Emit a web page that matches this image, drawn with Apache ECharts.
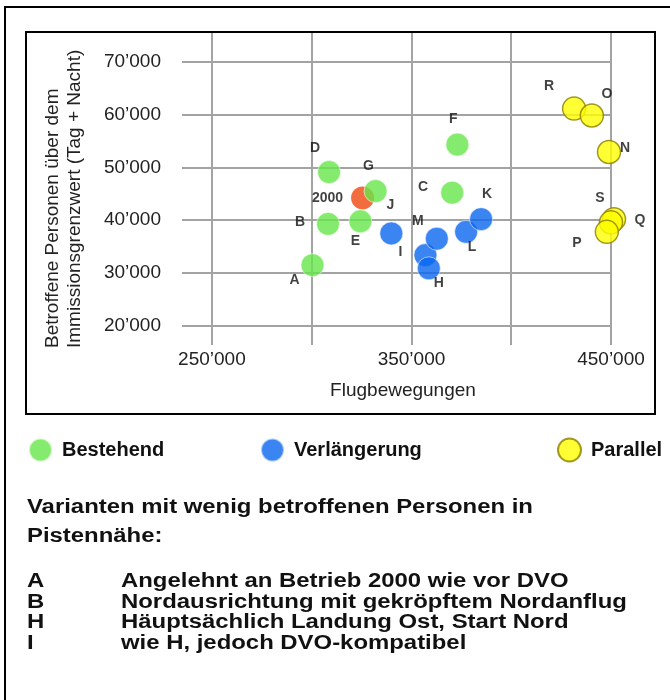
<!DOCTYPE html>
<html><head><meta charset="utf-8">
<script src="https://cdn.jsdelivr.net/npm/echarts@6/dist/echarts.min.js"></script>
<style>html,body{margin:0;padding:0;background:#fff}#c{width:670px;height:700px}</style>
</head><body><div id="c"></div>
<script>
const FONT = '"Liberation Sans", Arial, Helvetica, sans-serif';

// ---- axes ----
const xTickValues = [250000, 300000, 350000, 400000, 450000];
const xLabelValues = [250000, 350000, 450000];
const yTickValues = [20000, 30000, 40000, 50000, 60000, 70000];
const xAxisTitle = 'Flugbewegungen';
const yAxisTitleLines = ['Betroffene Personen über dem', 'Immissionsgrenzwert (Tag + Nacht)'];

// ---- series ----
const seriesNames = ['Bestehend', 'Verlängerung', 'Parallel'];

const referenceNames = ['2000'];
const referenceX = [325500];
const referenceY = [44200];

const bestehendNames = ['A', 'B', 'D', 'E', 'G', 'C', 'F'];
const bestehendX = [300400, 308200, 308700, 324400, 332000, 370400, 373000];
const bestehendY = [31500, 39300, 49100, 39800, 45500, 45200, 54300];

const verlaengerungNames = ['J', 'I', 'M', 'H', 'L', 'K'];
const verlaengerungX = [339900, 357000, 362700, 358700, 377400, 384900];
const verlaengerungY = [37500, 33400, 36500, 30900, 37800, 40200];

const parallelNames = ['R', 'O', 'N', 'Q', 'S', 'P'];
const parallelX = [431500, 440400, 449000, 451500, 450000, 447900];
const parallelY = [61100, 59800, 52900, 40200, 39600, 37800];

// ---- notes ----
const noteTitle = ['Varianten mit wenig betroffenen Personen in', 'Pistennähe:'];
const noteKeys = ['A', 'B', 'H', 'I'];
const noteTexts = ['Angelehnt an Betrieb 2000 wie vor DVO', 'Nordausrichtung mit gekröpftem Nordanflug',
  'Häuptsächlich Landung Ost, Start Nord', 'wie H, jedoch DVO-kompatibel'];

// label placement (pixels relative to point centre) — styling only
const labelOffset = {
  A: [-18, 15], B: [-28, -2], D: [-14, -24], E: [-5, 20], G: [-7, -25], C: [-29, -6], F: [-4, -25],
  '2000': [-35, 0], J: [-1, -28], I: [-25, -3], M: [-19, -18], H: [10, 15], L: [6, 15], K: [6, -25],
  R: [-25, -22], O: [15, -21], N: [16, -4], S: [-11, -24], Q: [26, 1], P: [-30, 11]
};

function fmt(v) {
  return String(v).replace(/\B(?=(\d{3})+(?!\d))/g, '\u2019');
}
function build(names, xs, ys) {
  return names.map((n, i) => ({
    name: n, value: [xs[i], ys[i]],
    label: { offset: labelOffset[n] || [0, 0] }
  }));
}

const pointLabel = {
  show: true, formatter: '{b}', position: 'inside',
  fontFamily: FONT, fontSize: 14, fontWeight: 'bold', color: '#111'
};

function scatter(name, data, itemStyle) {
  return {
    type: 'scatter', name, data, symbol: 'circle', symbolSize: 23, clip: false,
    itemStyle, label: pointLabel, emphasis: { disabled: true }
  };
}

const legendBase = {
  orient: 'horizontal', padding: 0, itemWidth: 23, itemHeight: 23, icon: 'circle',
  selectedMode: false,
  textStyle: { fontFamily: FONT, fontSize: 20, fontWeight: 'bold', color: '#111', padding: [0, 0, 0, 5] }
};

const graphics = [
  { type: 'polyline', shape: { points: [[5, 700], [5, 7], [670, 7]] }, style: { stroke: '#000', lineWidth: 2, fill: null }, silent: true },
  { type: 'rect', shape: { x: 26, y: 32, width: 629, height: 382 }, style: { stroke: '#000', lineWidth: 2, fill: null }, silent: true, z: 10 },
];
const yTitleX = [52.5, 74.5];
yAxisTitleLines.forEach((t, i) => graphics.push({
  type: 'text', x: yTitleX[i], y: 348, rotation: Math.PI / 2, silent: true,
  style: { text: t, fontFamily: FONT, fontSize: 19, fill: '#222', align: 'left', verticalAlign: 'middle', textAlign: 'left', textVerticalAlign: 'middle' }
}));
const NOTE_SCALE = 1.195;
function noteText(t, x, y) {
  return {
    type: 'text', x, y, scaleX: NOTE_SCALE, silent: true,
    style: { text: t, fontFamily: FONT, fontSize: 20, fontWeight: 'bold', fill: '#111', align: 'left', verticalAlign: 'middle', textAlign: 'left', textVerticalAlign: 'middle' }
  };
}
const noteTitleY = [507, 536];
noteTitle.forEach((t, i) => graphics.push(noteText(t, 27, noteTitleY[i])));
const noteRowY = [581, 602, 622, 643];
noteKeys.forEach((k, i) => {
  graphics.push(noteText(k, 27, noteRowY[i]));
  graphics.push(noteText(noteTexts[i], 121, noteRowY[i]));
});

const chart = echarts.init(document.getElementById('c'), null, { renderer: 'canvas' });
chart.setOption({
  animation: false,
  backgroundColor: '#fff',
  grid: { left: 182, right: 59, top: 33, bottom: 355, containLabel: false },
  xAxis: {
    type: 'value', min: 235000, max: 450000,
    name: xAxisTitle, nameLocation: 'middle', nameGap: 36,
    nameTextStyle: { fontFamily: FONT, fontSize: 19, color: '#222', padding: [0, 0, 0, 13] },
    axisLine: { show: false },
    axisTick: { show: false, customValues: xTickValues },
    axisLabel: { customValues: xLabelValues, formatter: fmt, margin: 5, fontFamily: FONT, fontSize: 19, color: '#222' },
    splitLine: { show: true, lineStyle: { color: '#a3a3a3', width: 2 } }
  },
  yAxis: {
    type: 'value', min: 16400, max: 75400,
    axisLine: { show: false },
    axisTick: { show: false, customValues: yTickValues },
    axisLabel: { customValues: yTickValues, formatter: fmt, margin: 21, fontFamily: FONT, fontSize: 19, color: '#222' },
    splitLine: { show: true, lineStyle: { color: '#a3a3a3', width: 2 } }
  },
  legend: [
    Object.assign({}, legendBase, { data: [seriesNames[0]], left: 28, top: 437.5 }),
    Object.assign({}, legendBase, { data: [seriesNames[1]], left: 260, top: 437.5 }),
    Object.assign({}, legendBase, { data: [seriesNames[2]], left: 557, top: 437.5 })
  ],
  series: [
    scatter(referenceNames[0], build(referenceNames, referenceX, referenceY), { color: '#f0470f' }),
    scatter(seriesNames[0], build(bestehendNames, bestehendX, bestehendY), { color: '#66e64a', borderColor: 'rgba(255,255,255,0.7)', borderWidth: 1 }),
    scatter(seriesNames[1], build(verlaengerungNames, verlaengerungX, verlaengerungY), { color: '#0a66f0', borderColor: 'rgba(255,255,255,0.7)', borderWidth: 1 }),
    scatter(seriesNames[2], build(parallelNames, parallelX, parallelY), { color: '#ffff00', borderColor: '#8c7d00', borderWidth: 1.5 })
  ],
  graphic: graphics
});
</script>
</body></html>
